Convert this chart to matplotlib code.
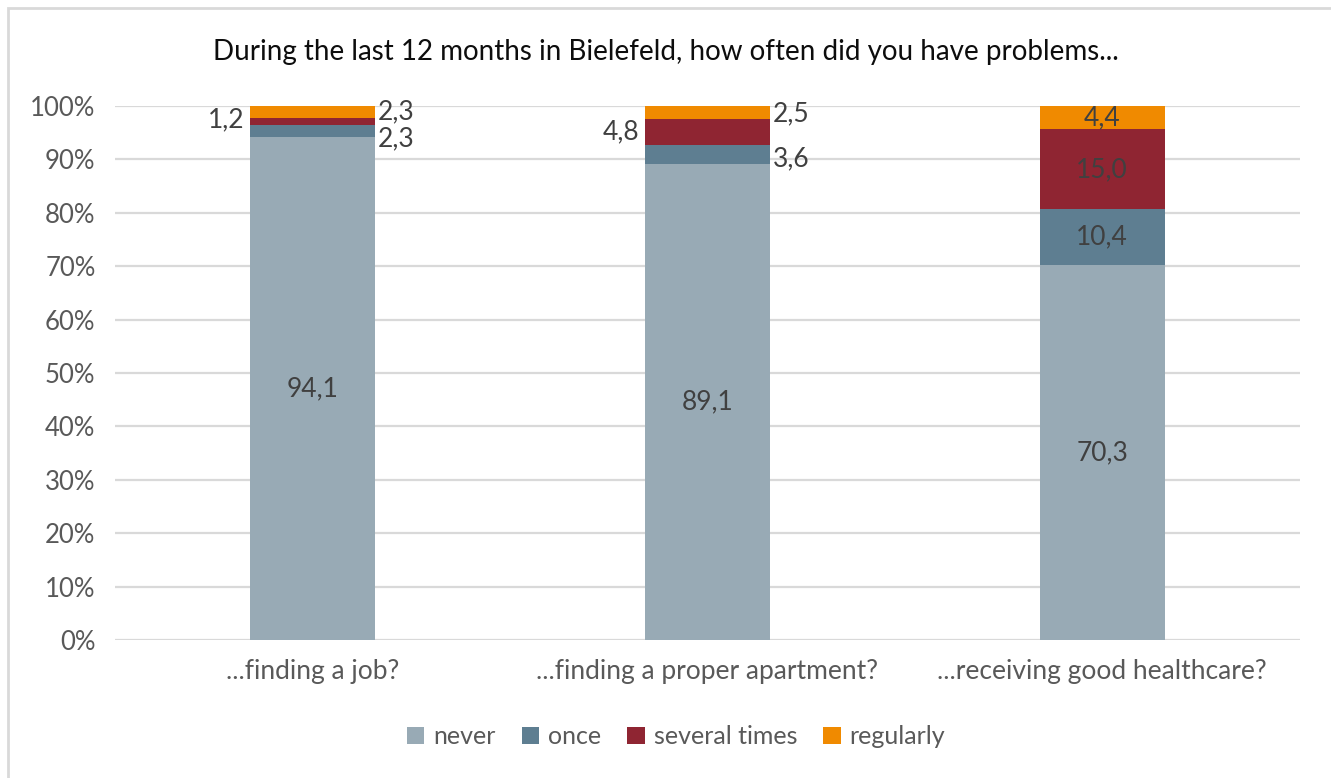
import numpy as np
import matplotlib.pyplot as plt
from matplotlib.patches import Rectangle

plt.rcParams['font.family'] = ['Lato', 'DejaVu Sans']

categories = ['...finding a job?', '...finding a proper apartment?', '...receiving good healthcare?']
series = ['never', 'once', 'several times', 'regularly']
never = [94.1, 89.1, 70.3]
once = [2.3, 3.6, 10.4]
several = [1.2, 4.8, 15.0]
regularly = [2.3, 2.5, 4.4]
colors = ['#98AAB5', '#5E7E91', '#8F2532', '#F08A00']

values = np.array([never, once, several, regularly])
# 100% stacked: scale each column to its total
shares = values / values.sum(axis=0) * 100

fig = plt.figure(figsize=(13.31, 7.78), dpi=100)
ax = fig.add_axes([0.0864, 0.1774, 0.890, 0.6864])

x = np.arange(len(categories))
width = 0.316
bottom = np.zeros(len(categories))
for i, name in enumerate(series):
    ax.bar(x, shares[i], width, bottom=bottom, color=colors[i], label=name, zorder=3)
    bottom += shares[i]

# value labels: (side, vertical offset in points) per series and category
label_place = [
    [('in', 0), ('in', 0), ('in', 0)],
    [('right', -6), ('right', -3), ('in', 0)],
    [('left', 1), ('left', 0), ('in', 0)],
    [('right', 0), ('right', -1), ('in', 0)],
]
lab_color = '#404040'
fs = 19
bottom = np.zeros(len(categories))
for i in range(len(series)):
    for j in range(len(categories)):
        mid = bottom[j] + shares[i][j] / 2
        txt = f'{values[i][j]:.1f}'.replace('.', ',')
        side, dy = label_place[i][j]
        if side == 'in':
            ax.text(x[j], mid, txt, ha='center', va='center', fontsize=fs, color=lab_color, zorder=4)
        elif side == 'right':
            ax.annotate(txt, (x[j] + width / 2, mid), xytext=(2, dy), textcoords='offset points',
                        ha='left', va='center', fontsize=fs, color=lab_color)
        else:
            ax.annotate(txt, (x[j] - width / 2, mid), xytext=(-4, dy), textcoords='offset points',
                        ha='right', va='center', fontsize=fs, color=lab_color)
    bottom += shares[i]

ax.set_xlim(-0.5, 2.5)
ax.set_ylim(0, 100)
ax.set_yticks(np.arange(0, 101, 10))
ax.set_yticklabels([f'{v}%' for v in range(0, 101, 10)])
ax.set_xticks(x)
ax.set_xticklabels(categories)
ax.grid(axis='y', color='#D9D9D9', linewidth=1.6, zorder=0)
for s in ax.spines.values():
    s.set_visible(False)
ax.tick_params(length=0, colors='#595959', labelsize=18.5)
ax.tick_params(axis='y', pad=14)
ax.tick_params(axis='x', pad=14, labelsize=19)

fig.text(0.5, 0.933, 'During the last 12 months in Bielefeld, how often did you have problems...',
         ha='center', va='center', fontsize=20, color='#0d0d0d')

leg = fig.legend(loc='center', bbox_to_anchor=(0.508, 0.053), ncol=4, frameon=False,
                 fontsize=18, handlelength=0.7, handleheight=0.7, handletextpad=0.35,
                 columnspacing=1.05, labelcolor='#595959')

# chart border on the left and top
fig.patches.append(Rectangle((8 / 1331, -0.1), 1.2, 1.1 - 8 / 778, transform=fig.transFigure,
                             fill=False, edgecolor='#D9D9D9', linewidth=2))

fig.savefig('out.png', dpi=100)
